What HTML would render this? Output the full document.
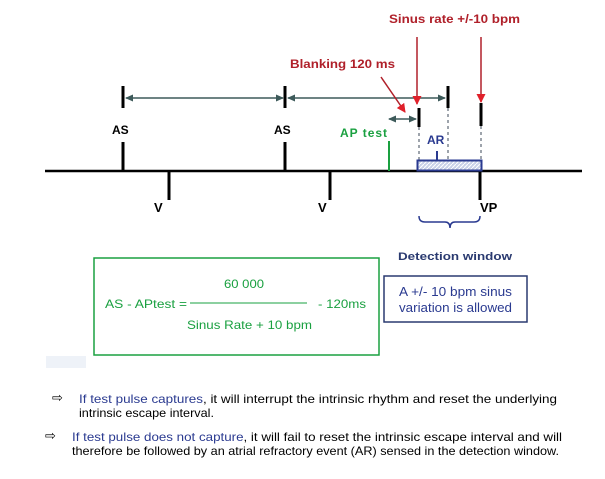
<!DOCTYPE html>
<html><head><meta charset="utf-8"><style>
html,body{margin:0;padding:0;background:#fff;}
svg{display:block;font-family:"Liberation Sans",Arial,sans-serif;}
</style></head><body>
<svg width="605" height="479" viewBox="0 0 605 479" xmlns="http://www.w3.org/2000/svg">
<defs>
<marker id="ga" markerWidth="8" markerHeight="8" refX="7" refY="4" orient="auto" markerUnits="userSpaceOnUse"><path d="M0,0.5 L8,4 L0,7.5 Z" fill="#3d5a5a"/></marker>
<marker id="gs" markerWidth="8" markerHeight="8" refX="1" refY="4" orient="auto" markerUnits="userSpaceOnUse"><path d="M8,0.5 L0,4 L8,7.5 Z" fill="#3d5a5a"/></marker>
<marker id="ra" markerWidth="10" markerHeight="10" refX="8" refY="5" orient="auto" markerUnits="userSpaceOnUse"><path d="M0,0.5 L9,5 L0,9.5 Z" fill="#e0202a"/></marker>
<pattern id="hatch" width="4" height="4" patternUnits="userSpaceOnUse"><rect width="4" height="4" fill="#c8d0e8"/><path d="M0,4 L4,0" stroke="#ffffff" stroke-width="1"/></pattern>
</defs>
<line x1="45" y1="171" x2="582" y2="171" stroke="#000" stroke-width="2.5"/>
<g stroke="#000" stroke-width="3">
<line x1="123" y1="86" x2="123" y2="108"/><line x1="123" y1="142" x2="123" y2="171"/>
<line x1="285" y1="86" x2="285" y2="108"/><line x1="285" y1="142" x2="285" y2="171"/>
<line x1="169" y1="171" x2="169" y2="200"/><line x1="330" y1="171" x2="330" y2="200"/>
<line x1="448" y1="86" x2="448" y2="108"/>
<line x1="419" y1="108" x2="419" y2="127"/>
<line x1="481" y1="103" x2="481" y2="126"/>
<line x1="480" y1="171" x2="480" y2="200"/>
</g>
<g stroke="#3d4a5a" stroke-width="1" stroke-dasharray="3,3">
<line x1="448" y1="108" x2="448" y2="160"/>
<line x1="419" y1="127" x2="419" y2="160"/>
<line x1="481" y1="126" x2="481" y2="160"/>
</g>
<line x1="389" y1="141" x2="389" y2="171" stroke="#1aa040" stroke-width="2"/>
<g stroke="#3d5a5a" stroke-width="1.5">
<line x1="126" y1="98" x2="283" y2="98" marker-start="url(#gs)" marker-end="url(#ga)"/>
<line x1="288" y1="98" x2="445" y2="98" marker-start="url(#gs)" marker-end="url(#ga)"/>
<line x1="389" y1="119" x2="416" y2="119" marker-start="url(#gs)" marker-end="url(#ga)"/>
</g>
<g stroke="#b0202a" stroke-width="1.5">
<line x1="417" y1="37" x2="417" y2="104" marker-end="url(#ra)"/>
<line x1="481" y1="37" x2="481" y2="102" marker-end="url(#ra)"/>
<line x1="381" y1="77" x2="405" y2="112" marker-end="url(#ra)"/>
</g>
<rect x="417.5" y="160.5" width="64" height="10" fill="url(#hatch)" stroke="#2a3a90" stroke-width="2"/>
<line x1="437" y1="151" x2="437" y2="160" stroke="#2a3a90" stroke-width="2"/>
<path d="M419,216 Q419,222 425,222 L445,222 Q450,222 450,228 Q450,222 455,222 L474,222 Q480,222 480,216" fill="none" stroke="#2a3a90" stroke-width="1.5"/>
<g font-weight="bold" font-size="12" fill="#000">
<text x="112" y="134">AS</text><text x="274" y="134">AS</text>
<text x="154" y="212" font-size="13">V</text><text x="318" y="212" font-size="13">V</text>
<text x="480" y="212" font-size="13">VP</text>
</g>
<text x="340" y="137" font-weight="bold" font-size="12" fill="#1aa040" textLength="47">AP test</text>
<text x="427" y="144" font-weight="bold" font-size="12" fill="#2a3a90">AR</text>
<text x="389" y="23" font-weight="bold" font-size="12" fill="#b0202a" textLength="131" lengthAdjust="spacingAndGlyphs">Sinus rate +/-10 bpm</text>
<text x="290" y="68" font-weight="bold" font-size="12" fill="#b0202a" textLength="105" lengthAdjust="spacingAndGlyphs">Blanking 120 ms</text>
<text x="398" y="260" font-weight="bold" font-size="11" fill="#2a3a70" textLength="114" lengthAdjust="spacingAndGlyphs">Detection window</text>
<rect x="384" y="276" width="143" height="46" fill="#fff" stroke="#2a3a70" stroke-width="1.5"/>
<text x="399" y="296" font-size="12.5" fill="#2a3a90" textLength="113" lengthAdjust="spacingAndGlyphs">A +/- 10 bpm sinus</text>
<text x="399" y="312" font-size="12.5" fill="#2a3a90" textLength="113" lengthAdjust="spacingAndGlyphs">variation is allowed</text>
<rect x="46" y="356" width="40" height="12" fill="#eef2f8"/>
<rect x="94" y="258" width="285" height="97" fill="#fff" stroke="#1aa040" stroke-width="1.5"/>
<g font-size="12" fill="#1aa040">
<text x="224" y="288" textLength="40" lengthAdjust="spacingAndGlyphs">60 000</text>
<text x="105" y="308" textLength="82" lengthAdjust="spacingAndGlyphs">AS - APtest =</text>
<text x="318" y="308" textLength="48" lengthAdjust="spacingAndGlyphs">- 120ms</text>
<text x="187" y="329" textLength="125" lengthAdjust="spacingAndGlyphs">Sinus Rate + 10 bpm</text>
</g>
<line x1="190" y1="303" x2="307" y2="303" stroke="#1aa040" stroke-width="1"/>
<g font-size="12" fill="#000">
<text x="52" y="402" font-size="13">⇨</text>
<text x="79" y="403" textLength="478" lengthAdjust="spacingAndGlyphs"><tspan fill="#2a3a90">If test pulse captures</tspan>, it will interrupt the intrinsic rhythm and reset the underlying</text>
<text x="79" y="417" textLength="135" lengthAdjust="spacingAndGlyphs">intrinsic escape interval.</text>
<text x="45" y="440" font-size="13">⇨</text>
<text x="72" y="441" textLength="490" lengthAdjust="spacingAndGlyphs"><tspan fill="#2a3a90">If test pulse does not capture</tspan>, it will fail to reset the intrinsic escape interval and will</text>
<text x="72" y="455" textLength="487" lengthAdjust="spacingAndGlyphs">therefore be followed by an atrial refractory event (AR)  sensed in the detection window.</text>
</g>
</svg>
</body></html>
